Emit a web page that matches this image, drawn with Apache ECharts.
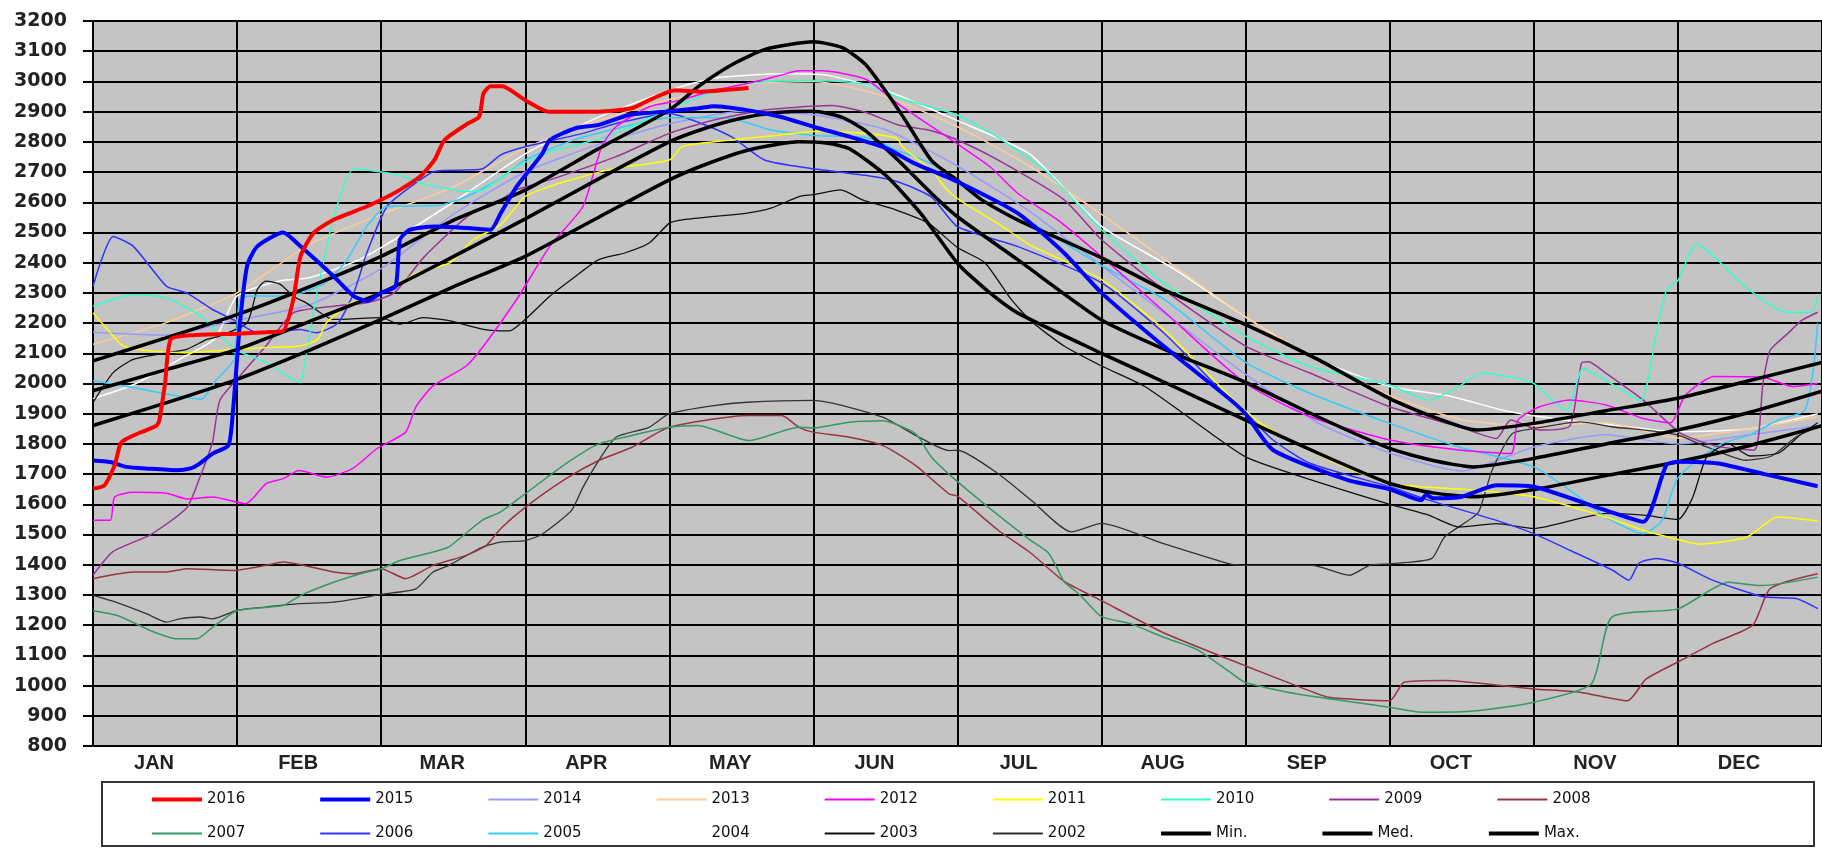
<!DOCTYPE html>
<html><head><meta charset="utf-8">
<script src="https://cdn.jsdelivr.net/npm/echarts@6/dist/echarts.min.js"></script>
<style>html,body{margin:0;padding:0;background:#fff}#c{width:1822px;height:849px}</style>
</head><body><div id="c"></div>
<script>
// x values are in month units (0 = start of JAN, 12 = end of DEC)
const months = ['JAN','FEB','MAR','APR','MAY','JUN','JUL','AUG','SEP','OCT','NOV','DEC'];
const yMin = 800, yMax = 3200, yStep = 100;

const d2016 = [[0,1652],[0.08,1663],[0.15,1729],[0.19,1800],[0.23,1816],[0.33,1838],[0.44,1860],[0.46,1877],[0.5,2000],[0.54,2146],[0.7,2160],[1,2165],[1.2,2170],[1.32,2174],[1.39,2278],[1.44,2421],[1.53,2498],[1.67,2542],[1.9,2586],[2,2608],[2.13,2641],[2.27,2685],[2.37,2740],[2.44,2806],[2.6,2860],[2.68,2883],[2.71,2960],[2.76,2984],[2.84,2984],[3,2938],[3.16,2900],[3.51,2900],[3.74,2911],[3.86,2938],[4.04,2971],[4.22,2966],[4.4,2972],[4.55,2978]];
const d2015 = [[0,1745],[0.12,1740],[0.23,1724],[0.39,1718],[0.58,1713],[0.67,1718],[0.74,1735],[0.83,1768],[0.94,1795],[0.97,1900],[1.02,2200],[1.07,2390],[1.14,2454],[1.32,2500],[1.44,2454],[1.67,2355],[1.81,2289],[1.9,2273],[2,2300],[2.1,2322],[2.13,2476],[2.2,2509],[2.37,2520],[2.6,2515],[2.76,2509],[2.83,2564],[2.94,2652],[3.12,2762],[3.17,2806],[3.35,2845],[3.51,2856],[3.72,2889],[3.97,2900],[4.2,2911],[4.31,2918],[4.54,2905],[4.77,2883],[5,2850],[5.25,2817],[5.5,2780],[5.71,2727],[6,2668],[6.42,2563],[6.74,2432],[7,2300],[7.43,2124],[7.89,1948],[8,1899],[8.19,1780],[8.71,1680],[9,1650],[9.22,1614],[9.25,1632],[9.3,1620],[9.5,1625],[9.74,1663],[10,1658],[10.5,1580],[10.76,1542],[10.92,1730],[11,1741],[11.28,1735],[11.6,1700],[11.97,1660]];
const d2014 = [[0,2170],[0.5,2160],[1,2210],[1.5,2260],[2,2380],[2.5,2560],[3,2700],[3.5,2790],[4,2860],[4.5,2900],[5,2890],[5.5,2840],[6,2720],[6.5,2570],[7,2390],[7.5,2210],[8,2030],[8.5,1870],[9,1770],[9.5,1710],[10,1790],[10.5,1830],[11,1800],[11.5,1830],[11.97,1860]];
const d2013 = [[0,2130],[0.5,2200],[1,2300],[1.5,2460],[2,2560],[2.5,2650],[3,2780],[3.5,2870],[4,2940],[4.5,2990],[5,3000],[5.5,2950],[6,2850],[6.5,2720],[7,2560],[7.5,2390],[8,2220],[8.5,2080],[9,1960],[9.5,1880],[10,1860],[10.5,1870],[11,1820],[11.5,1850],[11.97,1890]];
const d2012 = [[0,1547],[0.12,1547],[0.15,1624],[0.28,1640],[0.51,1637],[0.65,1618],[0.83,1624],[1.06,1602],[1.2,1668],[1.32,1685],[1.43,1712],[1.62,1690],[1.8,1718],[1.97,1784],[2.17,1839],[2.24,1922],[2.36,1992],[2.59,2058],[2.72,2130],[2.94,2278],[3.17,2454],[3.4,2586],[3.53,2784],[3.63,2850],[3.86,2916],[4.08,2938],[4.31,2971],[4.54,2993],[4.77,3020],[4.9,3035],[5.06,3035],[5.36,3008],[5.59,2925],[6,2793],[6.23,2716],[6.42,2629],[6.7,2540],[7,2420],[7.43,2240],[8,2000],[8.45,1890],[9,1813],[9.48,1780],[9.84,1768],[9.89,1879],[10.04,1923],[10.25,1945],[10.5,1929],[10.76,1884],[10.95,1870],[11.05,1960],[11.25,2023],[11.59,2021],[11.8,1990],[11.97,2000]];
const d2011 = [[0,2234],[0.12,2168],[0.21,2124],[0.4,2108],[0.63,2102],[0.98,2113],[1.21,2119],[1.44,2124],[1.56,2146],[1.62,2201],[1.79,2267],[1.9,2283],[2.09,2322],[2.25,2366],[2.48,2400],[2.64,2476],[2.83,2526],[3,2619],[3.17,2652],[3.4,2685],[3.63,2713],[4,2740],[4.09,2784],[4.31,2800],[4.77,2823],[5,2834],[5.3,2830],[5.58,2812],[5.62,2782],[5.82,2705],[5.93,2640],[6.05,2596],[6.28,2530],[6.5,2460],[7,2344],[7.43,2179],[7.94,1935],[8.13,1860],[8.59,1745],[9,1669],[9.6,1647],[10,1625],[10.5,1558],[10.76,1514],[11.02,1481],[11.15,1468],[11.48,1492],[11.69,1558],[11.97,1545]];
const d2010 = [[0,2256],[0.28,2294],[0.51,2283],[0.75,2223],[0.84,2179],[1,2110],[1.2,2070],[1.44,2003],[1.46,2040],[1.55,2290],[1.6,2400],[1.67,2550],[1.81,2712],[2,2700],[2.13,2689],[2.3,2660],[2.6,2636],[2.71,2641],[2.94,2718],[3.17,2768],[3.4,2795],[3.63,2828],[3.86,2878],[4.09,2927],[4.31,2966],[4.54,2993],[4.77,3002],[5,3003],[5.36,2991],[5.59,2947],[5.82,2914],[6,2889],[6.28,2815],[6.63,2696],[7,2509],[7.43,2333],[8,2157],[8.45,2056],[9,1995],[9.27,1945],[9.48,1990],[9.63,2034],[9.89,2017],[10,2000],[10.23,1911],[10.34,2050],[10.5,2010],[10.74,1944],[10.85,2165],[10.92,2308],[11,2341],[11.13,2462],[11.47,2319],[11.75,2236],[11.93,2236],[11.97,2290]];
const d2009 = [[0,1365],[0.14,1444],[0.4,1500],[0.65,1588],[0.74,1687],[0.83,1808],[0.88,1944],[1.02,2025],[1.2,2124],[1.39,2234],[1.67,2256],[1.9,2267],[2.09,2300],[2.3,2420],[2.6,2553],[2.83,2608],[2.94,2641],[3.17,2674],[3.63,2751],[4,2828],[4.31,2872],[4.66,2905],[5,2918],[5.13,2920],[5.36,2898],[5.59,2856],[5.82,2837],[6,2806],[6.28,2740],[6.74,2608],[7,2476],[7.43,2311],[8,2124],[8.45,2034],[9,1923],[9.48,1857],[9.74,1818],[9.84,1879],[10.04,1846],[10.25,1860],[10.33,2067],[10.38,2072],[10.5,2034],[10.76,1945],[11.02,1835],[11.28,1791],[11.53,1780],[11.59,2000],[11.64,2110],[11.75,2160],[11.86,2209],[11.97,2236]];
const d2008 = [[0,1354],[0.28,1376],[0.51,1376],[0.65,1387],[0.97,1381],[1.2,1398],[1.32,1409],[1.67,1376],[1.8,1370],[2,1387],[2.17,1354],[2.36,1398],[2.59,1431],[2.73,1464],[2.83,1520],[3,1590],[3.28,1684],[3.51,1745],[3.74,1789],[4,1855],[4.55,1894],[4.78,1894],[4.9,1855],[5,1839],[5.25,1822],[5.48,1795],[5.71,1728],[5.94,1635],[6,1627],[6.28,1515],[6.51,1438],[6.74,1345],[7,1281],[7.43,1175],[8,1065],[8.35,1000],[8.58,961],[9,950],[9.1,1011],[9.38,1017],[10,989],[10.32,978],[10.65,950],[10.78,1022],[11,1078],[11.24,1139],[11.52,1200],[11.64,1321],[11.97,1370]];
const d2007 = [[0,1248],[0.17,1232],[0.4,1182],[0.58,1155],[0.72,1155],[0.83,1193],[1,1248],[1.32,1265],[1.44,1298],[1.67,1342],[1.9,1376],[2,1387],[2.13,1414],[2.36,1442],[2.47,1459],[2.7,1547],[2.83,1575],[3,1635],[3.28,1734],[3.51,1800],[3.74,1828],[4,1855],[4.2,1861],[4.55,1811],[4.9,1855],[5,1853],[5.25,1872],[5.48,1877],[5.71,1833],[5.82,1756],[6,1675],[6.28,1565],[6.51,1480],[6.63,1440],[6.69,1390],[6.74,1344],[6.85,1300],[7,1228],[7.2,1205],[7.43,1160],[7.66,1120],[7.89,1045],[8,1010],[8.35,973],[9,928],[9.22,912],[9.61,917],[10,945],[10.4,1006],[10.54,1226],[11,1254],[11.35,1342],[11.58,1331],[11.97,1359]];
const d2006 = [[0,2322],[0.14,2487],[0.28,2454],[0.51,2322],[0.65,2300],[0.83,2245],[0.97,2212],[1.14,2168],[1.44,2179],[1.55,2168],[1.7,2200],[1.81,2300],[1.9,2432],[2.04,2586],[2.2,2650],[2.37,2702],[2.7,2710],[2.83,2757],[3,2784],[3.4,2828],[3.63,2861],[4,2894],[4.2,2865],[4.43,2817],[4.66,2740],[5,2711],[5.36,2689],[5.59,2667],[5.82,2617],[6,2519],[6.42,2453],[7,2333],[7.43,2168],[7.89,1948],[8,1904],[8.19,1813],[8.45,1735],[9,1658],[9.27,1614],[9.74,1547],[10,1503],[10.25,1448],[10.55,1381],[10.66,1349],[10.73,1405],[10.85,1421],[11,1405],[11.24,1349],[11.59,1294],[11.82,1288],[11.97,1255]];
const d2005 = [[0,2009],[0.3,1985],[0.51,1965],[0.75,1948],[0.86,2014],[0.98,2080],[1.02,2280],[1.14,2290],[1.3,2290],[1.45,2300],[1.6,2330],[1.75,2400],[1.9,2520],[2.04,2586],[2.4,2590],[2.6,2620],[2.83,2680],[3,2740],[3.3,2800],[3.6,2840],[4,2880],[4.4,2880],[4.7,2840],[5,2821],[5.36,2815],[5.59,2771],[5.82,2727],[6,2672],[6.42,2560],[7,2390],[7.43,2280],[8,2070],[8.45,1967],[9,1868],[9.48,1790],[10,1724],[10.25,1647],[10.5,1558],[10.76,1503],[10.89,1547],[10.99,1680],[11.13,1745],[11.3,1800],[11.5,1830],[11.7,1880],[11.88,1911],[11.94,2050],[11.97,2200]];
const d2004 = [[0,1950],[0.3,2000],[0.6,2080],[0.85,2150],[1,2290],[1.3,2340],[1.5,2350],[1.8,2400],[2,2450],[2.5,2600],[3,2760],[3.5,2880],[4,2970],[4.3,3010],[4.8,3025],[5.1,3020],[5.5,2970],[6,2870],[6.5,2760],[7,2520],[7.5,2380],[8,2220],[8.5,2080],[9,1990],[9.4,1960],[9.8,1910],[10.2,1880],[10.6,1860],[11,1840],[11.5,1850],[11.97,1900]];
const d2003 = [[0,1937],[0.14,2036],[0.28,2080],[0.51,2102],[0.65,2113],[0.79,2146],[0.88,2157],[1.07,2201],[1.14,2311],[1.2,2339],[1.3,2328],[1.39,2289],[1.48,2267],[1.67,2212],[2,2218],[2.13,2196],[2.29,2218],[2.48,2207],[2.71,2179],[2.89,2174],[3,2212],[3.17,2289],[3.35,2355],[3.51,2410],[3.69,2432],[3.86,2465],[4,2531],[4.09,2542],[4.31,2553],[4.54,2564],[4.71,2581],[4.9,2619],[5,2625],[5.19,2641],[5.34,2608],[5.57,2575],[5.8,2530],[6,2450],[6.19,2400],[6.37,2280],[6.51,2207],[6.74,2124],[7,2058],[7.3,1990],[7.57,1900],[8,1757],[8.46,1680],[9,1600],[9.27,1564],[9.48,1525],[9.74,1536],[10,1520],[10.5,1570],[10.76,1564],[11,1550],[11.1,1620],[11.2,1757],[11.35,1800],[11.5,1760],[11.7,1770],[11.85,1830],[11.97,1870]];
const d2002 = [[0,1299],[0.12,1282],[0.28,1255],[0.37,1238],[0.51,1210],[0.6,1221],[0.74,1227],[0.83,1221],[1,1249],[1.2,1260],[1.43,1271],[1.67,1276],[1.9,1293],[2,1302],[2.24,1320],[2.36,1376],[2.47,1398],[2.7,1458],[2.83,1475],[3,1480],[3.12,1502],[3.32,1579],[3.4,1656],[3.51,1745],[3.63,1822],[3.86,1855],[4,1900],[4.31,1927],[4.54,1938],[5,1944],[5.48,1889],[5.71,1828],[5.94,1778],[6,1779],[6.28,1702],[6.51,1614],[6.79,1509],[7,1537],[7.43,1470],[7.89,1403],[8,1398],[8.46,1398],[8.72,1365],[8.86,1398],[9,1403],[9.29,1420],[9.38,1492],[9.61,1570],[9.66,1636],[9.71,1713],[9.85,1834],[10,1851],[10.32,1873],[10.55,1856],[10.78,1845],[11,1829],[11.2,1790],[11.47,1746],[11.65,1760],[11.82,1823],[11.97,1856]];
const dMin = [[0,1861],[0.5,1935],[1,2014],[1.5,2110],[2,2212],[2.5,2320],[3,2421],[3.5,2548],[4,2674],[4.25,2725],[4.55,2773],[4.9,2800],[5.1,2795],[5.25,2777],[5.5,2690],[5.75,2560],[6,2398],[6.2,2310],[6.42,2233],[7,2100],[7.5,1990],[8,1879],[8.5,1770],[9,1669],[9.3,1638],[9.58,1625],[10,1649],[10.5,1695],[11,1741],[11.5,1795],[12,1860]];
const dMed = [[0,1976],[0.5,2045],[1,2113],[1.5,2205],[2,2300],[2.5,2420],[3,2545],[3.5,2675],[4,2800],[4.25,2845],[4.5,2878],[4.75,2897],[5,2901],[5.2,2881],[5.36,2837],[5.59,2738],[5.82,2629],[6,2552],[6.42,2409],[7,2210],[7.5,2100],[8,2004],[8.5,1890],[9,1785],[9.3,1745],[9.58,1724],[10,1752],[10.5,1800],[11,1846],[11.5,1905],[12,1975]];
const dMax = [[0,2075],[0.5,2150],[1,2228],[1.5,2320],[2,2421],[2.5,2540],[3,2640],[3.5,2775],[4,2905],[4.21,2986],[4.44,3057],[4.67,3107],[5,3131],[5.2,3112],[5.36,3057],[5.5,2969],[5.64,2870],[5.82,2738],[6,2672],[6.17,2607],[6.42,2541],[7,2416],[7.43,2311],[8,2195],[8.5,2080],[9,1950],[9.3,1890],[9.6,1846],[10,1868],[10.5,1910],[11,1951],[11.5,2010],[12,2070]];

const seriesValues = {
  '2016': d2016, '2015': d2015, '2014': d2014, '2013': d2013, '2012': d2012,
  '2011': d2011, '2010': d2010, '2009': d2009, '2008': d2008, '2007': d2007,
  '2006': d2006, '2005': d2005, '2004': d2004, '2003': d2003, '2002': d2002,
  'Min.': dMin, 'Med.': dMed, 'Max.': dMax
};
const legendRow1 = ['2016','2015','2014','2013','2012','2011','2010','2009','2008'];
const legendRow2 = ['2007','2006','2005','2004','2003','2002','Min.','Med.','Max.'];

const looks = {
  '2016': ['#ff0000', 4], '2015': ['#0000ff', 4], '2014': ['#9999ff', 1.5],
  '2013': ['#ffcc99', 1.5], '2012': ['#ff00ff', 1.5], '2011': ['#ffff00', 1.5],
  '2010': ['#33ffcc', 1.5], '2009': ['#993399', 1.5], '2008': ['#993344', 1.5],
  '2007': ['#339966', 1.5], '2006': ['#3333ff', 1.5], '2005': ['#33ccff', 1.5],
  '2004': ['#ffffff', 1.5], '2003': ['#111111', 1.3], '2002': ['#333333', 1.3],
  'Min.': ['#000000', 3.5], 'Med.': ['#000000', 3.5], 'Max.': ['#000000', 3.5]
};
const drawOrder = ['2004','2013','2014','2002','2003','2008','2007','2006','2005','2009','2010','2011','2012','Min.','Med.','Max.','2015','2016'];

const thickIcon = 'path://M0,0H50V4H0Z';
const thinIcon = 'path://M0,1.1H50V2.9H0Z M0,0L0.01,0L0.01,4L0,4Z';
const legendItems = names => names.map(n => ({ name: n, icon: looks[n][1] >= 3 ? thickIcon : thinIcon }));

const series = drawOrder.map(n => ({
  name: n, type: 'line', data: seriesValues[n], xAxisIndex: 0,
  symbol: 'none', showSymbol: false, symbolKeepAspect: true,
  smooth: (n.length > 4 ? 0.4 : 0.2),
  lineStyle: { color: looks[n][0], width: looks[n][1] },
  itemStyle: { color: looks[n][0] },
  emphasis: { disabled: true }, silent: true
}));

const legendBase = {
  left: 152, orient: 'horizontal', itemWidth: 50, itemHeight: 4, itemGap: 75,
  padding: 0, width: 1700, selectedMode: false,
  textStyle: { fontFamily: 'DejaVu Sans', fontSize: 15, color: '#111', width: 60 }
};

const chart = echarts.init(document.getElementById('c'), null, { renderer: 'canvas' });
chart.setOption({
  animation: false,
  backgroundColor: '#ffffff',
  grid: { left: 93, right: -4, top: 21, bottom: 103, show: true, backgroundColor: '#c4c4c4', borderWidth: 0 },
  xAxis: [
    { type: 'value', min: 0, max: 12, interval: 1,
      axisLine: { show: false }, axisTick: { show: false }, axisLabel: { show: false },
      splitLine: { show: true, lineStyle: { color: '#000', width: 2 } } },
    { type: 'category', data: months, boundaryGap: true, position: 'bottom',
      axisLine: { show: true, lineStyle: { color: '#000', width: 2 } },
      axisTick: { show: false }, splitLine: { show: false },
      axisLabel: { interval: 0, margin: 7, formatter: v => '{m|' + v + '}',
        rich: { m: { fontFamily: 'Liberation Sans', fontWeight: 'bold', fontSize: 20, color: '#222', padding: [0, 22, 0, 0] } } } }
  ],
  yAxis: { type: 'value', min: yMin, max: yMax, interval: yStep,
    axisLine: { show: true, lineStyle: { color: '#000', width: 2 } },
    axisTick: { show: true, length: 10, lineStyle: { color: '#000', width: 2 } },
    splitLine: { show: true, lineStyle: { color: '#000', width: 2 } },
    axisLabel: { fontFamily: 'DejaVu Sans', fontWeight: 'bold', fontSize: 19, color: '#222', margin: 26,
      formatter: v => String(v) } },
  legend: [
    Object.assign({}, legendBase, { data: legendItems(legendRow1), top: 792 }),
    Object.assign({}, legendBase, { data: legendItems(legendRow2), top: 826 })
  ],
  graphic: [
    { type: 'rect', shape: { x: 102, y: 782, width: 1712, height: 64 },
      style: { fill: 'rgba(0,0,0,0)', stroke: '#333', lineWidth: 2 }, silent: true }
  ],
  series: series
});
</script>
</body></html>
